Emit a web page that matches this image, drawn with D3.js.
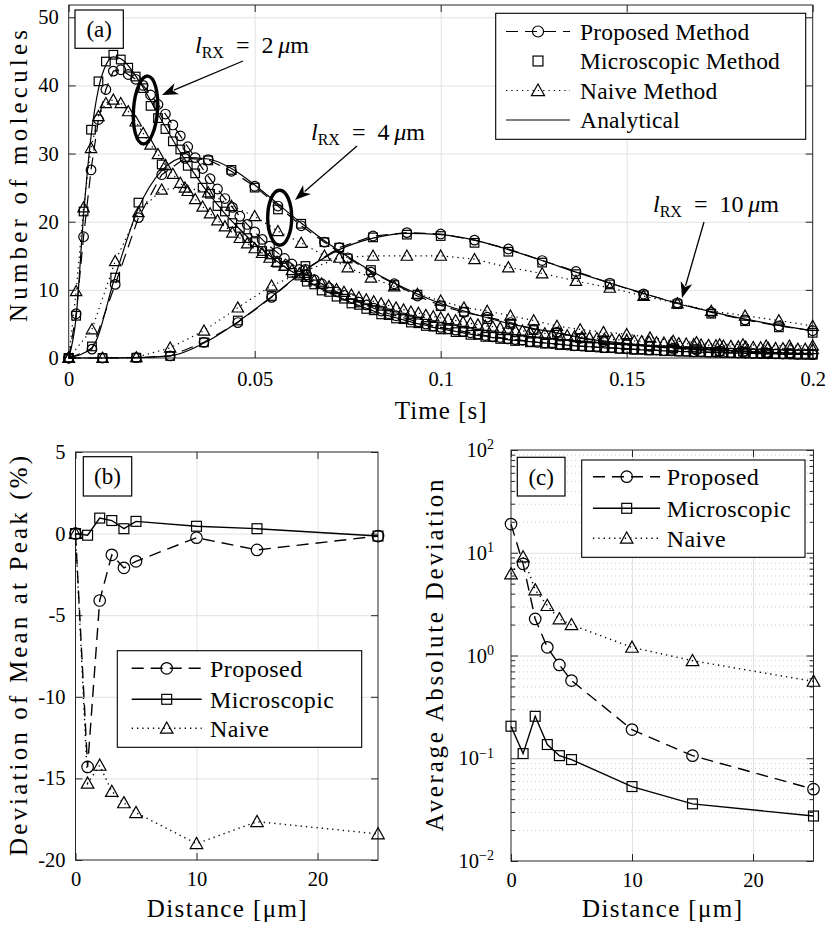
<!DOCTYPE html>
<html><head><meta charset="utf-8">
<script src="https://cdn.jsdelivr.net/npm/d3@7"></script>
<style>
body{margin:0;background:#fff}
svg text{font-family:"Liberation Serif","Times New Roman",serif;fill:#000}
</style>
</head><body>
<svg id="c" width="830" height="936"></svg>
<script>
// ---------------- DATA ----------------
// Panel (a): sampling grids (s)
const tA2 = d3.range(101).map(i => i * 0.002);
const tA4 = d3.range(33).map(i => i * 0.00625);
const tA10 = d3.range(23).map(i => i * 0.2 / 22);

// l_RX = 2 um
const ana2 = [0,6,21,32.5,39.5,43,44.2,43.9,42.9,41.4,39.7,37.8,35.8,33.9,32.0,30.2,28.5,26.9,25.3,23.9,22.5,21.2,20.0,18.9,17.8,16.8,15.9,15.0,14.2,13.4,12.7,12.0,11.3,10.7,10.1,9.6,9.1,8.6,8.1,7.7,7.3,6.9,6.5,6.2,5.9,5.6,5.3,5.0,4.8,4.5,4.3,4.1,3.9,3.7,3.5,3.3,3.2,3.0,2.9,2.7,2.6,2.5,2.4,2.3,2.2,2.1,2.0,1.9,1.8,1.7,1.65,1.6,1.5,1.45,1.4,1.3,1.25,1.2,1.15,1.1,1.05,1.0,0.97,0.93,0.9,0.86,0.83,0.8,0.77,0.74,0.71,0.68,0.66,0.63,0.61,0.59,0.57,0.55,0.53,0.51,0.5];
const mic2 = [0,6.2,21.5,33.5,40.6,43.5,44.5,43.8,42.6,41.3,39.6,37.0,35.2,33.6,31.8,30.6,28.2,27.1,25.0,24.1,22.3,21.5,19.8,19.1,17.6,17.0,15.7,15.2,14.0,13.5,12.5,12.1,11.2,10.8,9.9,9.7,9.0,8.7,8.0,7.8,7.2,7.0,6.4,6.3,5.8,5.7,5.2,5.1,4.7,4.6,4.2,4.2,3.8,3.8,3.4,3.4,3.1,3.1,2.8,2.8,2.5,2.6,2.3,2.4,2.1,2.2,1.9,2.0,1.75,1.75,1.6,1.65,1.45,1.5,1.35,1.35,1.2,1.25,1.1,1.15,1.0,1.05,0.95,0.95,0.85,0.9,0.8,0.85,0.75,0.75,0.7,0.7,0.65,0.65,0.6,0.6,0.55,0.55,0.5,0.5,0.48];
const pro2 = [0,6.5,17.8,27.6,35.0,39.4,42.1,42.3,41.6,40.9,40.0,38.6,37.2,35.8,34.2,32.6,31.0,29.4,27.8,26.3,24.8,23.4,22.1,20.8,19.6,18.5,17.4,16.4,15.5,14.6,13.8,13.0,12.2,11.5,10.9,10.3,9.7,9.2,8.7,8.2,7.8,7.3,6.9,6.5,6.2,5.9,5.6,5.3,5.0,4.7,4.5,4.3,4.1,3.9,3.7,3.5,3.3,3.1,3.0,2.8,2.7,2.6,2.4,2.3,2.2,2.1,2.0,1.9,1.8,1.75,1.7,1.6,1.55,1.5,1.4,1.35,1.3,1.25,1.2,1.15,1.1,1.05,1.0,0.96,0.92,0.88,0.85,0.82,0.79,0.76,0.73,0.7,0.67,0.65,0.62,0.6,0.58,0.56,0.54,0.52,0.5];
const nai2 = [0,9.8,22.1,30.8,35.5,37.4,37.9,37.4,36.2,34.7,33.0,31.3,29.9,28.3,27.0,25.7,24.5,23.3,22.2,21.2,20.2,19.3,18.4,17.6,16.8,16.1,15.4,14.7,14.1,13.5,12.9,12.4,11.9,11.4,10.9,10.5,10.1,9.7,9.3,8.9,8.6,8.3,8.0,7.7,7.4,7.1,6.8,6.6,6.3,6.1,5.9,5.7,5.5,5.3,5.1,4.9,4.7,4.6,4.4,4.3,4.1,4.0,3.8,3.7,3.6,3.5,3.4,3.3,3.2,3.1,3.0,2.9,2.8,2.7,2.65,2.6,2.5,2.45,2.4,2.3,2.25,2.2,2.15,2.1,2.0,1.95,1.9,1.85,1.8,1.75,1.7,1.65,1.6,1.55,1.5,1.45,1.42,1.38,1.35,1.32,1.3];
// l_RX = 4 um
const ana4 = [0,1.5,12.0,22.0,27.5,29.4,29.2,27.8,25.4,22.6,19.8,17.2,14.9,12.8,11.0,9.4,8.0,6.9,5.9,5.0,4.3,3.7,3.0,2.5,2.1,1.8,1.5,1.3,1.1,0.95,0.8,0.7,0.6];
const pro4 = [0,1.3,10.8,20.6,26.9,29.3,29.1,27.4,25.2,22.3,19.4,17.0,14.7,12.6,10.9,9.1,7.7,6.7,6.0,5.2,4.2,3.8,2.9,2.4,2.0,1.7,1.4,1.2,1.0,0.85,0.75,0.65,0.55];
const mic4 = [0,1.7,11.8,22.8,28.4,29.5,29.0,27.6,25.0,21.8,19.7,17.0,14.6,12.9,10.7,9.3,7.6,6.8,5.7,5.0,4.1,3.7,2.9,2.6,2.0,1.8,1.4,1.3,1.0,0.95,0.75,0.7,0.55];
const nai4 = [0,4.2,14.2,21.4,24.7,25.0,24.3,22.3,20.8,18.6,16.9,15.0,13.3,11.8,10.5,9.4,8.4,7.4,6.9,6.2,5.5,4.7,4.2,3.8,3.5,3.0,2.5,2.3,2.0,2.0,1.8,1.8,1.8];
// l_RX = 10 um
const ana10 = [0,0,0.05,0.3,2.2,5.3,9.0,12.9,15.9,17.6,18.3,18.1,17.3,15.9,14.3,12.6,11.0,9.5,8.0,6.8,5.7,4.8,4.0];
const pro10 = [0,0,0.05,0.3,2.3,5.2,8.9,13.0,16.2,17.9,18.4,18.2,17.3,16.0,14.3,12.7,11.0,9.4,8.1,6.7,5.6,4.7,4.0];
const mic10 = [0,0,0.05,0.3,2.3,5.5,9.1,13.5,16.2,17.7,18.1,17.9,16.9,15.6,14.0,12.3,10.8,9.2,7.9,6.5,5.4,4.5,3.7];
const nai10 = [0,0,0.1,1.5,4.0,7.4,10.6,12.8,14.7,15.0,15.0,15.0,14.5,13.3,12.4,11.3,10.3,9.1,8.0,6.9,6.2,5.5,4.7];

const xTicksA = [0,0.05,0.1,0.15,0.2];
const xTickLabelsA = ["0","0.05","0.1","0.15","0.2"];
const yTicksA = [0,10,20,30,40,50];

// Panels (b),(c)
const dist = [0,1,2,3,4,5,10,15,25];
const devPro = [0,-14.3,-4.1,-1.3,-2.1,-1.7,-0.25,-1.0,-0.15];
const devMic = [0,-0.1,0.95,0.8,0.3,0.75,0.45,0.3,-0.15];
const devNai = [0,-15.3,-14.2,-15.8,-16.5,-17.1,-19.0,-17.65,-18.4];
const aadPro = [19.0,7.8,2.27,1.2,0.81,0.57,0.19,0.106,0.05];
const aadMic = [0.205,0.111,0.256,0.136,0.106,0.097,0.053,0.036,0.0274];
const aadNai = [6.2,9.1,4.35,3.06,2.27,1.99,1.2,0.89,0.56];
const xTicksBC = [0,10,20];
const yTicksB = [-20,-15,-10,-5,0,5];
const yTicksC = [0.01,0.1,1,10,100];
const legendA = ["Proposed Method","Microscopic Method","Naive Method","Analytical"];
const legendBC = ["Proposed","Microscopic","Naive"];

// ---------------- DRAWING ----------------
const svg = d3.select("#c");
const AX = "#262626", GRID = "#e2e2e2", MINOR = "#cfcfcf";
const FS = 20.5;

function marker(g, type, x, y, s) {
  s = s || 1;
  if (type === "o") return g.append("circle").attr("cx",x).attr("cy",y).attr("r",4.8*s).attr("fill","none").attr("stroke","#000").attr("stroke-width",1.2);
  if (type === "s") { const h=4.3*s; return g.append("rect").attr("x",x-h).attr("y",y-h).attr("width",2*h).attr("height",2*h).attr("fill","none").attr("stroke","#000").attr("stroke-width",1.2); }
  if (type === "^") { const w=5.7*s; return g.append("path").attr("d",`M${x},${y-w}L${x+w},${y+w*0.78}L${x-w},${y+w*0.78}Z`).attr("fill","none").attr("stroke","#000").attr("stroke-width",1.2); }
}

function frame(g, x, y, xt, yt, opt) {
  const [x0,x1] = x.range(), [y0,y1] = y.range();
  const W = x1-x0, H = y0-y1;
  if (opt.minor) {
    g.append("g").attr("transform",`translate(${x0},0)`)
      .call(d3.axisLeft(y).tickValues(opt.minor).tickSize(-W).tickFormat(""))
      .call(s=>{s.select(".domain").remove(); s.selectAll("line").attr("stroke",MINOR).attr("stroke-dasharray","1,3");});
  }
  g.append("g").attr("transform",`translate(0,${y0})`)
    .call(d3.axisBottom(x).tickValues(xt.filter(v=>x(v)>x0+1&&x(v)<x1-1)).tickSize(-H).tickFormat(""))
    .call(s=>{s.select(".domain").remove(); s.selectAll("line").attr("stroke",GRID);});
  g.append("g").attr("transform",`translate(${x0},0)`)
    .call(d3.axisLeft(y).tickValues(yt.filter(v=>y(v)<y0-1&&y(v)>y1+1)).tickSize(-W).tickFormat(""))
    .call(s=>{s.select(".domain").remove(); s.selectAll("line").attr("stroke",GRID);});
  const tl = 7;
  const style = s => { s.select(".domain").remove(); s.selectAll("line").attr("stroke",AX); s.attr("font-family",null).attr("font-size",FS); s.selectAll("text").attr("fill","#000"); };
  g.append("g").attr("transform",`translate(0,${y0})`)
    .call(d3.axisBottom(x).tickValues(xt).tickSize(-tl).tickPadding(opt.xpad||13).tickFormat((d,i)=>opt.xf ? opt.xf[i] : d)).call(style);
  g.append("g").attr("transform",`translate(0,${y1})`)
    .call(d3.axisTop(x).tickValues(xt).tickSize(-tl).tickFormat("")).call(style);
  const la = g.append("g").attr("transform",`translate(${x0},0)`)
    .call(d3.axisLeft(y).tickValues(yt).tickSize(-tl).tickPadding(opt.ypad||10).tickFormat(opt.yf||(d=>d))).call(style);
  g.append("g").attr("transform",`translate(${x1},0)`)
    .call(d3.axisRight(y).tickValues(yt).tickSize(-tl).tickFormat("")).call(style);
  if (opt.minor) {
    g.append("g").attr("transform",`translate(${x0},0)`).call(d3.axisLeft(y).tickValues(opt.minor).tickSize(-4).tickFormat("")).call(style);
    g.append("g").attr("transform",`translate(${x1},0)`).call(d3.axisRight(y).tickValues(opt.minor).tickSize(-4).tickFormat("")).call(style);
  }
  g.append("rect").attr("x",x0).attr("y",y1).attr("width",W).attr("height",H).attr("fill","none").attr("stroke",AX).attr("stroke-width",1);
  return la;
}

function axisLabel(g, x, y, txt, len, rot) {
  const t = g.append("text").attr("text-anchor","middle").attr("dy","0.35em").attr("font-size",25)
    .attr("textLength",len).attr("lengthAdjust","spacing").text(txt);
  if (rot) t.attr("transform",`translate(${x},${y}) rotate(-90)`); else t.attr("x",x).attr("y",y);
}

function panelLabel(g, x, y, w, h, txt) {
  g.append("rect").attr("x",x).attr("y",y).attr("width",w).attr("height",h).attr("fill","#fff").attr("stroke","#000").attr("stroke-width",1.2);
  g.append("text").attr("x",x+w/2).attr("y",y+h/2).attr("dy","0.35em").attr("text-anchor","middle").attr("font-size",23).text(txt);
}

function series(g, x, y, xs, ys, dash, mk, ms, lw) {
  const pts = xs.map((v,i)=>[x(v), y(ys[i])]);
  if (dash !== null) {
    g.append("path").attr("d", d3.line()(pts)).attr("fill","none").attr("stroke","#000").attr("stroke-width",lw||1.2)
      .attr("stroke-dasharray", dash || null);
  }
  if (mk) pts.forEach(p => marker(g, mk, p[0], p[1], ms));
}

const DASH = "12,7", DOT = "1.3,4";

// ===== Panel (a) =====
const xA = d3.scaleLinear().domain([0,0.2]).range([68.7,812.7]);
const yA = d3.scaleLinear().domain([0,51.8]).range([358,5]);
const gA = svg.append("g");
frame(gA, xA, yA, xTicksA, yTicksA, {xf: xTickLabelsA});
const gAd = gA.append("g");
const anaLine = d3.line().curve(d3.curveMonotoneX);
[[tA2,ana2],[tA4,ana4],[tA10,ana10]].forEach(([t,v]) => {
  gAd.append("path").attr("d", anaLine(t.map((d,i)=>[xA(d), yA(v[i])]))).attr("fill","none").attr("stroke","#000").attr("stroke-width",1.2);
});
[[tA2,pro2,mic2,nai2],[tA4,pro4,mic4,nai4],[tA10,pro10,mic10,nai10]].forEach(([t,p,m,n]) => {
  series(gAd, xA, yA, t, p, DASH, "o", 1, 1.2);
  series(gAd, xA, yA, t, m, null, "s", 1);
  series(gAd, xA, yA, t, n, DOT, "^", 1, 1.2);
});
axisLabel(gA, 18, 176, "Number of molecules", 292, true);
axisLabel(gA, 440.7, 410, "Time [s]", 92, false);
panelLabel(gA, 75, 10, 48.3, 38.3, "(a)");

// annotations
function lrx(g, x, y, num) {
  const t = g.append("text").attr("x",x).attr("y",y).attr("font-size",24);
  t.append("tspan").attr("font-style","italic").text("l");
  t.append("tspan").attr("font-size",16).attr("dy",5).text("RX");
  t.append("tspan").attr("dy",-5).text("\u2002=\u2002" + num + "\u2009");
  t.append("tspan").attr("font-style","italic").text("μ");
  t.append("tspan").text("m");
}
function arrow(g, x1, y1, x2, y2) {
  const a = Math.atan2(y2-y1, x2-x1);
  const L = 16, Wd = 6;
  const bx = x2 - L*0.8*Math.cos(a), by = y2 - L*0.8*Math.sin(a);
  g.append("line").attr("x1",x1).attr("y1",y1).attr("x2",bx).attr("y2",by).attr("stroke","#000").attr("stroke-width",1.3);
  const c = Math.cos(a), s = Math.sin(a);
  const P = (u,v)=>[x2 + u*c - v*s, y2 + u*s + v*c];
  const pts = [P(0,0), P(-L,Wd), P(-L*0.72,0), P(-L,-Wd)];
  g.append("path").attr("d","M"+pts.map(p=>p.join(",")).join("L")+"Z").attr("fill","#000");
}
lrx(gA, 195, 53, "2");
arrow(gA, 243, 61, 162, 95);
gA.append("ellipse").attr("cx",145.5).attr("cy",110).attr("rx",12).attr("ry",34).attr("transform","rotate(4,145.5,110)").attr("fill","none").attr("stroke","#000").attr("stroke-width",3.4);
lrx(gA, 311, 140, "4");
arrow(gA, 357, 146, 295, 200);
gA.append("ellipse").attr("cx",279.7).attr("cy",217.7).attr("rx",12).attr("ry",27.5).attr("fill","none").attr("stroke","#000").attr("stroke-width",3.4);
lrx(gA, 653, 212, "10");
arrow(gA, 704, 222, 682, 298);

// legend (a)
(function(){
  const g = gA.append("g");
  g.append("rect").attr("x",495.7).attr("y",13.3).attr("width",310).attr("height",126).attr("fill","#fff").attr("stroke","#000").attr("stroke-width",1.1);
  const rows = [31.5,61,90.5,120];
  const specs = [[DASH,"o"],[null,"s"],[DOT,"^"],["","" ]];
  rows.forEach((ry,i)=>{
    const [d,m] = specs[i];
    if (d !== null) g.append("line").attr("x1",506).attr("x2",570).attr("y1",ry).attr("y2",ry).attr("stroke","#000").attr("stroke-width",1.2).attr("stroke-dasharray", d||null);
    if (m) marker(g, m, 538, ry, 1.15);
    g.append("text").attr("x",580).attr("y",ry).attr("dy","0.35em").attr("font-size",23.5).attr("letter-spacing",0.2).text(legendA[i]);
  });
})();

// ===== Panel (b) =====
const xB = d3.scaleLinear().domain([0,25]).range([75.5,378]);
const yB = d3.scaleLinear().domain([-20,5]).range([860,452]);
const gB = svg.append("g");
frame(gB, xB, yB, xTicksBC, yTicksB, {xpad: 11});
series(gB, xB, yB, dist, devPro, DASH, "o", 1.2, 1.4);
series(gB, xB, yB, dist, devMic, "", "s", 1.15, 1.4);
series(gB, xB, yB, dist, devNai, DOT, "^", 1.1, 1.4);
axisLabel(gB, 18, 656, "Deviation of Mean at Peak (%)", 400, true);
axisLabel(gB, 226.7, 908, "Distance [μm]", 160, false);
panelLabel(gB, 83.3, 456.7, 48.4, 39.3, "(b)");
function legendBox(g, bx, by, bw, bh, rows, lx1, lx2, mx, tx) {
  g.append("rect").attr("x",bx).attr("y",by).attr("width",bw).attr("height",bh).attr("fill","#fff").attr("stroke","#000").attr("stroke-width",1.1);
  const specs = [[DASH,"o",1.2],["","s",1.15],[DOT,"^",1.1]];
  rows.forEach((ry,i)=>{
    const [d,m,s] = specs[i];
    g.append("line").attr("x1",lx1).attr("x2",lx2).attr("y1",ry).attr("y2",ry).attr("stroke","#000").attr("stroke-width",1.4).attr("stroke-dasharray", d||null);
    marker(g, m, mx, ry, s);
    g.append("text").attr("x",tx).attr("y",ry).attr("dy","0.35em").attr("font-size",24).attr("letter-spacing",0.4).text(legendBC[i]);
  });
}
legendBox(gB, 117.3, 650.7, 244.4, 96.6, [668.3,699.3,728.3], 131.7, 201.7, 166.7, 210);

// ===== Panel (c) =====
const xC = d3.scaleLinear().domain([0,25]).range([511,813.5]);
const yC = d3.scaleLog().domain([0.01,100]).range([861,450]);
const minorC = [];
[0.01,0.1,1,10].forEach(b => { for (let k=2;k<=9;k++) minorC.push(b*k); });
const gC = svg.append("g");
const laC = frame(gC, xC, yC, xTicksBC, yTicksC, {minor: minorC, yf: () => "10", ypad: 17, xpad: 11});
laC.selectAll(".tick text").each(function(d){
  const e = Math.round(Math.log10(d));
  d3.select(this).append("tspan").attr("dy","-0.55em").attr("font-size",14).text(e<0 ? "−"+(-e) : String(e));
});
series(gC, xC, yC, dist, aadPro, DASH, "o", 1.2, 1.4);
series(gC, xC, yC, dist, aadMic, "", "s", 1.15, 1.4);
series(gC, xC, yC, dist, aadNai, DOT, "^", 1.1, 1.4);
axisLabel(gC, 434, 655.5, "Average Absolute Deviation", 352, true);
axisLabel(gC, 662, 908, "Distance [μm]", 160, false);
panelLabel(gC, 517.3, 457.3, 47.7, 38.7, "(c)");
legendBox(gC, 581.7, 460, 223.3, 97.3, [476.7,508.3,538.3], 593, 660, 626.7, 666.7);
</script>
</body></html>
